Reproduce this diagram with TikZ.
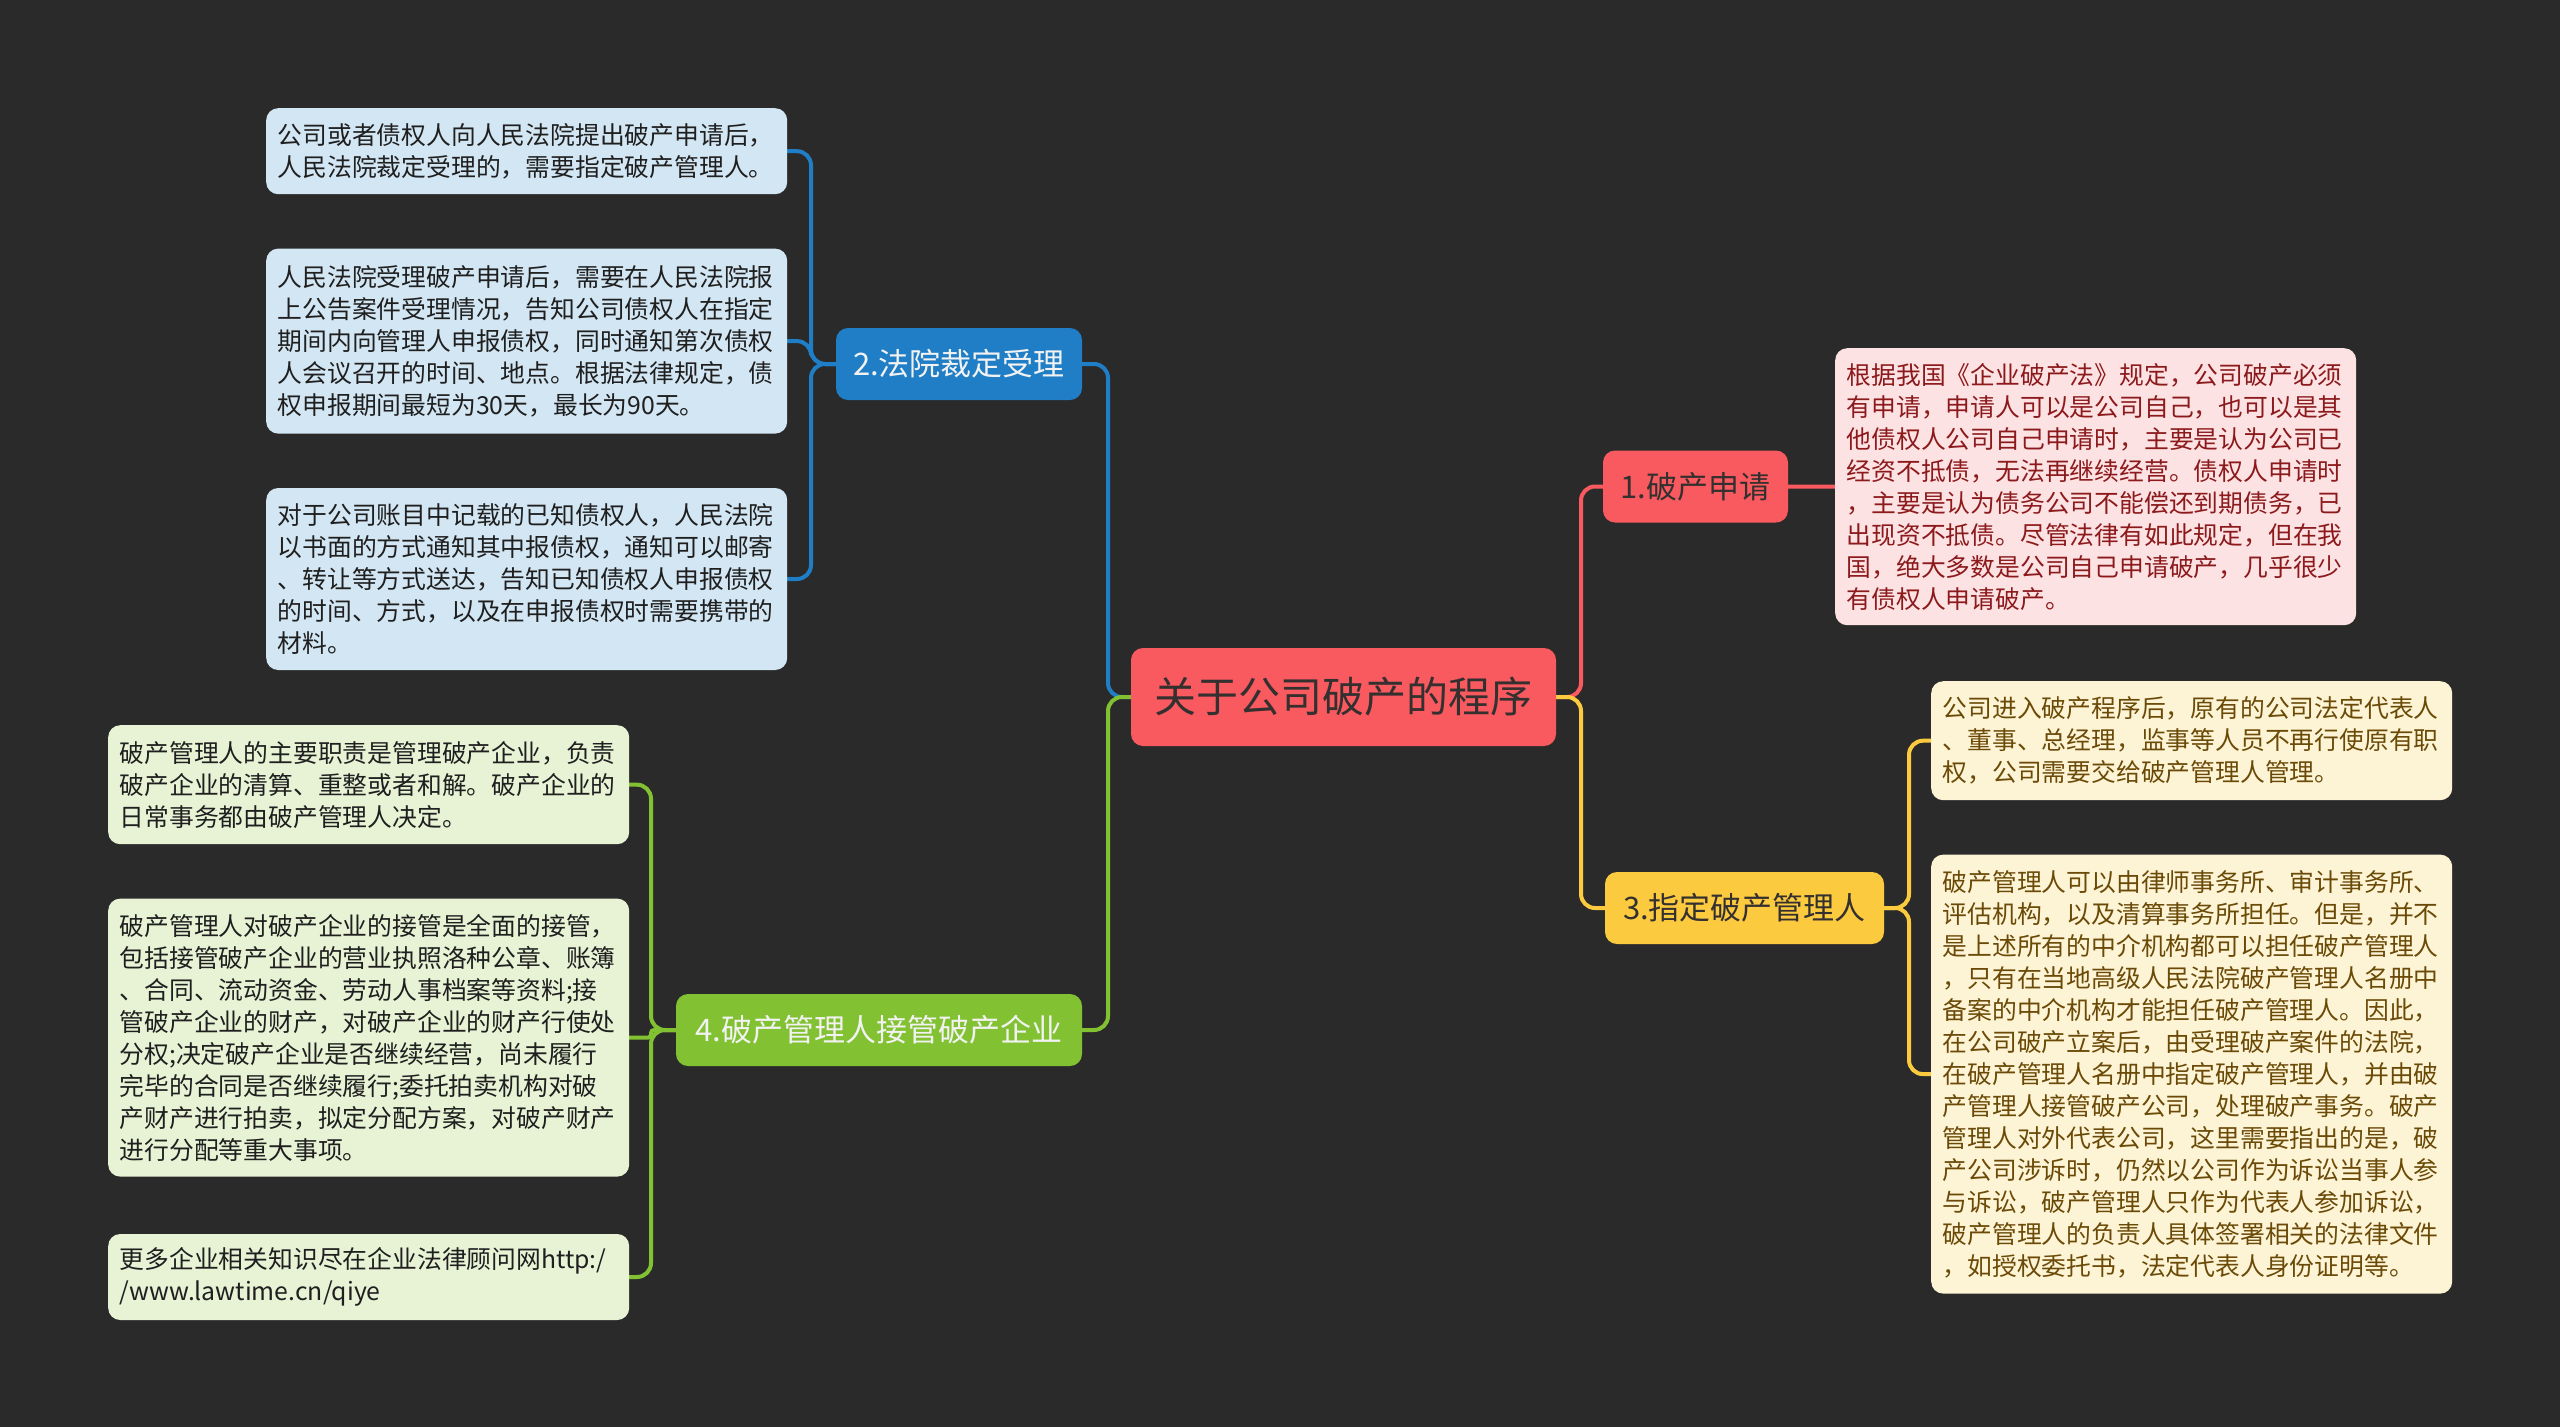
\documentclass[tikz,border=0pt]{standalone}
\usepackage{fontspec}
\setmainfont{Noto Sans CJK SC}
\usepackage{tikz}
\usetikzlibrary{positioning, calc}
\definecolor{mm_background}{HTML}{2A2A2A}
\definecolor{mm_red}{HTML}{F95A5F}
\definecolor{mm_blue}{HTML}{1F7EC6}
\definecolor{mm_yellow}{HTML}{FBCA3E}
\definecolor{mm_green}{HTML}{82C232}
\definecolor{mm_redleaf}{HTML}{FDE2E3}
\definecolor{mm_blueleaf}{HTML}{D3E6F3}
\definecolor{mm_yellowleaf}{HTML}{FDF4D5}
\definecolor{mm_greenleaf}{HTML}{E8F3D6}
\definecolor{mm_redtext}{HTML}{8C1A1C}
\definecolor{mm_yellowtext}{HTML}{6B4A08}
\definecolor{mm_darktext}{HTML}{353030}
\colorlet{mmbg}{mm_background}
\tikzset{
  topic/.style={rectangle,rounded corners=12,fill=mm_red,text=mm_darktext,font=\fontsize{42}{50}\selectfont,minimum width=425,minimum height=98},
  branch/.style={rectangle,rounded corners=12,minimum height=72,inner xsep=0,font=\fontsize{31}{38}\selectfont},
  branch_r/.style={branch,fill=mm_red,text=mm_darktext},
  branch_b/.style={branch,fill=mm_blue,text=white!95!black},
  branch_y/.style={branch,fill=mm_yellow,text=mm_darktext},
  branch_g/.style={branch,fill=mm_green,text=white!95!black},
  leaf/.style={rectangle,rounded corners=12,text width=498,inner xsep=11.5,inner ysep=0,align=left,font=\fontsize{24.8}{32}\selectfont},
  leaf_r/.style={leaf,fill=mm_redleaf,text=mm_redtext},
  leaf_b/.style={leaf,fill=mm_blueleaf,text=black!88},
  leaf_y/.style={leaf,fill=mm_yellowleaf,text=mm_yellowtext},
  leaf_g/.style={leaf,fill=mm_greenleaf,text=black!88},
  link/.style={line width=4,line cap=round,rounded corners=14},
}
\pgfdeclarelayer{back}
\pgfsetlayers{back,main}

\begin{document}
\begin{tikzpicture}[x=1pt,y=-1pt]
 \begin{pgfonlayer}{back}
  \fill[mmbg] (0,0) rectangle (2560,1427);
 \end{pgfonlayer}
	    \node[topic] (ROOT) at (1343.5,697) {关于公司破产的程序};
	    \node[branch_r,minimum width=185] (APPLY) at (1695.5,486.5) {1.破产申请};
	    \node[branch_b,minimum width=246] (COURT) at (959,364) {2.法院裁定受理};
	    \node[branch_y,minimum width=279] (ASSIGN) at (1744.5,908) {3.指定破产管理人};
	    \node[branch_g,minimum width=406] (TAKEOVER) at (879,1030) {4.破产管理人接管破产企业};
	    \coordinate (JR) at (1581,0);
	    \coordinate (JL) at (1108,0);
	    \coordinate (J1) at (811,0);
	    \coordinate (J3) at (1909,0);
	    \coordinate (J4) at (651,0);
	    \node[leaf_r,minimum height=277,anchor=north west] (APPLY_A) at (1835,348) {根据我国《企业破产法》规定，公司破产必须\\有申请，申请人可以是公司自己，也可以是其\\他债权人公司自己申请时，主要是认为公司已\\经资不抵债，无法再继续经营。债权人申请时\\，主要是认为债务公司不能偿还到期债务，已\\出现资不抵债。尽管法律有如此规定，但在我\\国，绝大多数是公司自己申请破产，几乎很少\\有债权人申请破产。};
	    \node[leaf_b,minimum height=86,anchor=north west] (COURT_A) at (266,108) {公司或者债权人向人民法院提出破产申请后，\\人民法院裁定受理的，需要指定破产管理人。};
	    \node[leaf_b,minimum height=185,below=54pt of COURT_A] (COURT_B) {人民法院受理破产申请后，需要在人民法院报\\上公告案件受理情况，告知公司债权人在指定\\期间内向管理人申报债权，同时通知第次债权\\人会议召开的时间、地点。根据法律规定，债\\权申报期间最短为30天，最长为90天。};
	    \node[leaf_b,minimum height=182,below=54pt of COURT_B] (COURT_C) {对于公司账目中记载的已知债权人，人民法院\\以书面的方式通知其中报债权，通知可以邮寄\\、转让等方式送达，告知已知债权人申报债权\\的时间、方式，以及在申报债权时需要携带的\\材料。};
	    \node[leaf_y,minimum height=119,anchor=north west] (ASSIGN_A) at (1931,681) {公司进入破产程序后，原有的公司法定代表人\\、董事、总经理，监事等人员不再行使原有职\\权，公司需要交给破产管理人管理。};
	    \node[leaf_y,minimum height=439,below=54pt of ASSIGN_A] (ASSIGN_B) {破产管理人可以由律师事务所、审计事务所、\\评估机构，以及清算事务所担任。但是，并不\\是上述所有的中介机构都可以担任破产管理人\\，只有在当地高级人民法院破产管理人名册中\\备案的中介机构才能担任破产管理人。因此，\\在公司破产立案后，由受理破产案件的法院，\\在破产管理人名册中指定破产管理人，并由破\\产管理人接管破产公司，处理破产事务。破产\\管理人对外代表公司，这里需要指出的是，破\\产公司涉诉时，仍然以公司作为诉讼当事人参\\与诉讼，破产管理人只作为代表人参加诉讼，\\破产管理人的负责人具体签署相关的法律文件\\，如授权委托书，法定代表人身份证明等。};
	    \node[leaf_g,minimum height=119,anchor=north west] (TAKEOVER_A) at (108,725) {破产管理人的主要职责是管理破产企业，负责\\破产企业的清算、重整或者和解。破产企业的\\日常事务都由破产管理人决定。};
	    \node[leaf_g,minimum height=278,below=54pt of TAKEOVER_A] (TAKEOVER_B) {破产管理人对破产企业的接管是全面的接管，\\包括接管破产企业的营业执照洛种公章、账簿\\、合同、流动资金、劳动人事档案等资料;接\\管破产企业的财产，对破产企业的财产行使处\\分权;决定破产企业是否继续经营，尚未履行\\完毕的合同是否继续履行;委托拍卖机构对破\\产财产进行拍卖，拟定分配方案，对破产财产\\进行分配等重大事项。};
	    \node[leaf_g,minimum height=86,below=57pt of TAKEOVER_B] (TAKEOVER_C) {更多企业相关知识尽在企业法律顾问网http:/\\/www.lawtime.cn/qiye};
 \begin{pgfonlayer}{back}
	    \draw[link,mm_red] (ROOT.east) -- (JR |- ROOT.east) |- (APPLY.west);
	    \draw[link,mm_yellow] (ROOT.east) -- (JR |- ROOT.east) |- (ASSIGN.west);
	    \draw[link,mm_blue] (ROOT.west) -- (JL |- ROOT.west) |- (COURT.east);
	    \draw[link,mm_green] (ROOT.west) -- (JL |- ROOT.west) |- (TAKEOVER.east);
	    \draw[link,mm_red] (APPLY.east) -- (APPLY_A.west);
	    \draw[link,mm_blue] (COURT.west) -- (J1 |- COURT.west) |- (COURT_A.east);
	    \draw[link,mm_blue] (COURT.west) -- (J1 |- COURT.west) |- (COURT_B.east);
	    \draw[link,mm_blue] (COURT.west) -- (J1 |- COURT.west) |- (COURT_C.east);
	    \draw[link,mm_yellow] (ASSIGN.east) -- (J3 |- ASSIGN.east) |- (ASSIGN_A.west);
	    \draw[link,mm_yellow] (ASSIGN.east) -- (J3 |- ASSIGN.east) |- (ASSIGN_B.west);
	    \draw[link,mm_green] (TAKEOVER.west) -- (J4 |- TAKEOVER.west) |- (TAKEOVER_A.east);
	    \draw[link,mm_green,rounded corners=3] (TAKEOVER.west) -- (J4 |- TAKEOVER.west) |- (TAKEOVER_B.east);
	    \draw[link,mm_green] (TAKEOVER.west) -- (J4 |- TAKEOVER.west) |- (TAKEOVER_C.east);
 \end{pgfonlayer}
	\end{tikzpicture}
\end{document}
